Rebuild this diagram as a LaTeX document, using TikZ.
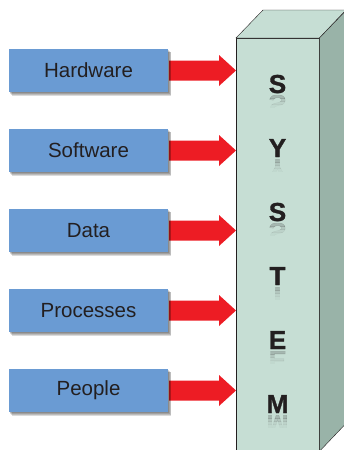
\documentclass[tikz,border=0pt]{standalone}
\usepackage{fontspec}
\setmainfont{Liberation Sans}
\newfontfamily\heavyfont[FakeBold=1.2]{Liberation Sans Bold}
\usetikzlibrary{backgrounds}

\definecolor{boxblue}{HTML}{6A9BD3}
\definecolor{arrowred}{HTML}{ED1C24}
\definecolor{frontgreen}{HTML}{C6DED4}
\definecolor{sidegreen}{HTML}{99B3A8}
\definecolor{inkgray}{HTML}{231F20}

\begin{document}
\begin{tikzpicture}[x=1pt, y=-1pt,
  part/.style={fill=boxblue, minimum width=159pt, minimum height=43pt, inner sep=0pt,
    font=\fontsize{20.5}{23}\selectfont, text=inkgray},
  letter/.style={font=\fontsize{26}{30}\heavyfont, text=inkgray, inner sep=0pt, anchor=base},
  pointer/.style={fill=arrowred},
  shade step/.style={fill=black, opacity=.14}]
  \useasboundingbox (0,0) rectangle (344,450);
  \node [part] (hw) at (88.5, 70.5) {Hardware};
  \node [part] (sw) at (88.5, 150.5) {Software};
  \node [part] (data) at (88.5, 230.5) {Data};
  \node [part] (proc) at (88.5, 310.5) {Processes};
  \node [part] (people) at (88.5, 390.5) {People};
  \begin{scope}[on background layer]
    \node [draw=inkgray, fill=frontgreen, anchor=north west, minimum width=83pt, minimum height=413pt, inner sep=0pt] (face) at (236, 38) {};
    \draw [fill=frontgreen, draw=inkgray] (face.north west) -- ++(27,-28) -- ++(83,0) -- (face.north east) -- cycle;
    \draw [fill=sidegreen, draw=inkgray] (face.north east) -- ++(27,-28) -- ++(0,413) -- (face.south east) -- cycle;
    \foreach \n in {hw, sw, data, proc, people} {
      \fill [pointer] (\n.east -| face.west) -- ++(-17,15.5) -- ++(0,-5.5) -- ++(-50,0) -- ++(0,-20) -- ++(50,0) -- ++(0,-5.5) -- cycle;
      \foreach \s in {1,2,3,4}
        \fill [shade step] ([xshift=\s*0.8pt, yshift=-\s*0.9pt]\n.south west) rectangle ([xshift=\s*0.8pt, yshift=-\s*0.9pt]\n.north east);
    }
  \end{scope}
  \foreach \l [count=\i from 0] in {S,Y,S,T,E,M} {
    \node [letter] (l\i) at (277.5, 93+64*\i) {\l};
    \foreach \k/\o in {2/.2,5/.12,8/.06,11/.03} {
      \begin{scope}
        \clip (260, 93+64*\i+\k) rectangle (295, 96+64*\i+\k);
        \node [letter, opacity=\o, yscale=-1, transform shape] at (277.5, 95+64*\i) {\l};
      \end{scope}
    }
  }
\end{tikzpicture}
\end{document}
